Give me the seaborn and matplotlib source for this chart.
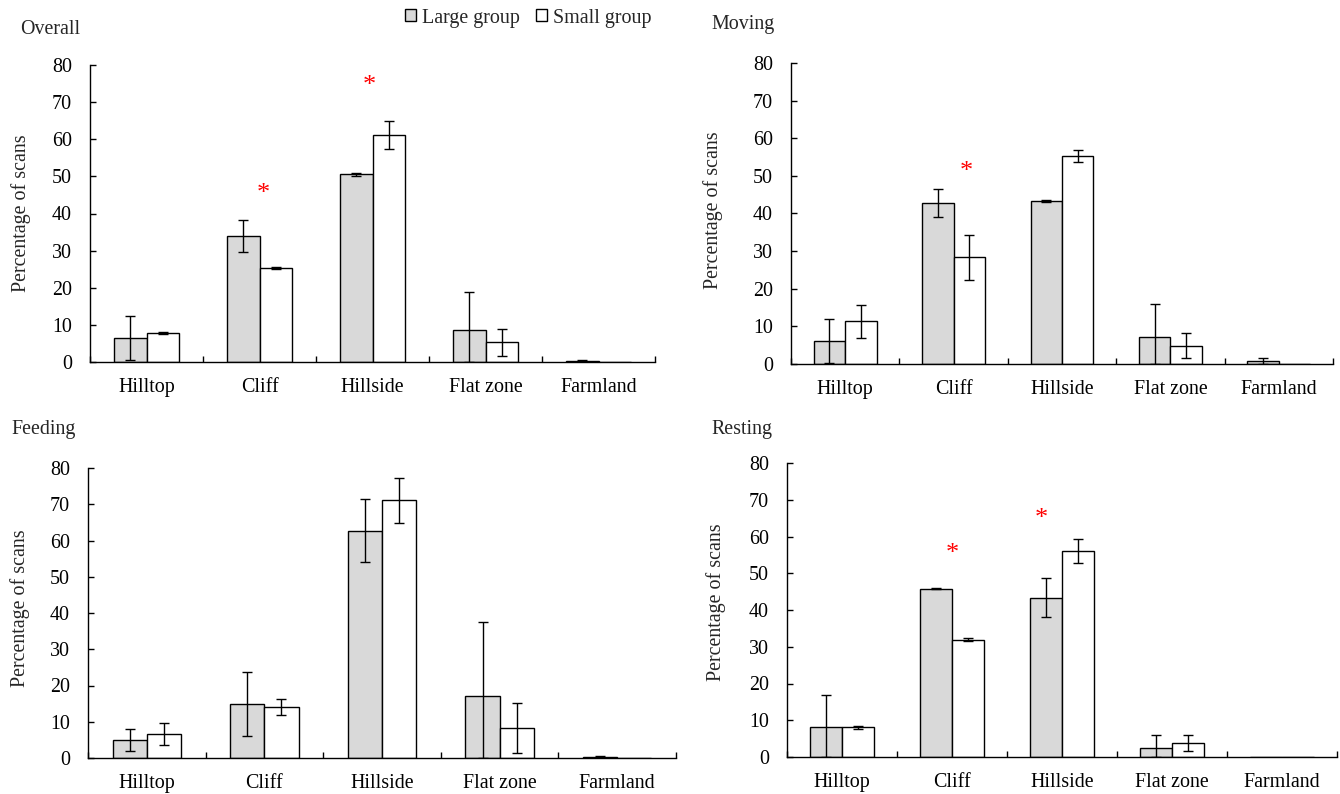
import numpy as np
import pandas as pd
import matplotlib
matplotlib.use("Agg")
import matplotlib.pyplot as plt
import matplotlib.transforms as mtransforms
import seaborn as sns
from matplotlib.patches import Patch
from matplotlib.ticker import FixedLocator

# ---------------- data ----------------
habitats = ["Hilltop", "Cliff", "Hillside", "Flat zone", "Farmland"]
groups = ["Large group", "Small group"]

overall_large = [6.5, 33.9, 50.6, 8.5, 0.3]
overall_large_err = [6.0, 4.3, 0.4, 10.4, 0.2]
overall_small = [7.9, 25.4, 61.1, 5.3, 0.0]
overall_small_err = [0.3, 0.3, 3.8, 3.7, 0.0]

moving_large = [6.1, 42.8, 43.3, 7.1, 0.7]
moving_large_err = [5.9, 3.6, 0.3, 8.9, 1.0]
moving_small = [11.3, 28.4, 55.3, 4.9, 0.0]
moving_small_err = [4.3, 6.0, 1.5, 3.3, 0.0]

feeding_large = [4.9, 14.9, 62.7, 17.2, 0.3]
feeding_large_err = [3.0, 8.9, 8.7, 20.3, 0.3]
feeding_small = [6.6, 14.1, 71.1, 8.2, 0.0]
feeding_small_err = [3.0, 2.3, 6.2, 6.9, 0.0]

resting_large = [8.2, 45.8, 43.3, 2.5, 0.0]
resting_large_err = [8.6, 0.2, 5.3, 3.4, 0.0]
resting_small = [8.1, 31.9, 56.1, 3.8, 0.0]
resting_small_err = [0.4, 0.4, 3.2, 2.3, 0.0]

# significance asterisks: (habitat, height, offset within category)
overall_sig = [("Cliff", 46.9, 0.03), ("Hillside", 76.0, -0.03)]
moving_sig = [("Cliff", 52.6, 0.12)]
feeding_sig = []
resting_sig = [("Cliff", 56.9, 0.0), ("Hillside", 66.4, -0.19)]

titles = ["Overall", "Moving", "Feeding", "Resting"]
y_label = "Percentage of scans"
y_ticks = [0, 10, 20, 30, 40, 50, 60, 70, 80]

# ---------------- style ----------------
sns.set_style("ticks")
plt.rcParams["font.family"] = ["Liberation Serif", "DejaVu Serif"]
plt.rcParams["axes.linewidth"] = 1.0

W, H = 1340, 794
fig = plt.figure(figsize=(W / 100, H / 100), dpi=100)

def rect(l, r, top, bottom):
    return [l / W, 1 - bottom / H, (r - l) / W, (bottom - top) / H]

panels = [
    dict(rect=rect(90, 655, 65, 362), large=overall_large, lerr=overall_large_err,
         small=overall_small, serr=overall_small_err, sig=overall_sig,
         title=titles[0], tpos=(20, 29), lab=(-0.122, 0.5)),
    dict(rect=rect(791, 1333, 63, 364), large=moving_large, lerr=moving_large_err,
         small=moving_small, serr=moving_small_err, sig=moving_sig,
         title=titles[1], tpos=(711, 25), lab=(-0.144, 0.512)),
    dict(rect=rect(88, 676, 468, 758), large=feeding_large, lerr=feeding_large_err,
         small=feeding_small, serr=feeding_small_err, sig=feeding_sig,
         title=titles[2], tpos=(11, 429), lab=(-0.116, 0.517)),
    dict(rect=rect(787, 1337, 463, 757), large=resting_large, lerr=resting_large_err,
         small=resting_small, serr=resting_small_err, sig=resting_sig,
         title=titles[3], tpos=(711, 429), lab=(-0.129, 0.527)),
]

FS = 14.4
palette = {"Large group": "#d9d9d9", "Small group": "white"}

for p in panels:
    ax = fig.add_axes(p["rect"])
    df = pd.DataFrame({
        "habitat": habitats * 2,
        "group": [groups[0]] * len(habitats) + [groups[1]] * len(habitats),
        "value": list(p["large"]) + list(p["small"]),
    })
    sns.barplot(data=df, x="habitat", y="value", hue="group", order=habitats,
                hue_order=groups, palette=palette, saturation=1,
                edgecolor="black", linewidth=1.0, width=0.58, gap=0,
                errorbar=None, legend=False, ax=ax)
    for cont, errs in zip(ax.containers, [p["lerr"], p["serr"]]):
        for bar, e in zip(cont, errs):
            if e <= 0:
                continue
            xc = bar.get_x() + bar.get_width() / 2
            h = bar.get_height()
            ax.errorbar(xc, h, yerr=[[min(e, h)], [e]], fmt="none",
                        ecolor="black", elinewidth=1.0, capsize=3.5,
                        capthick=1.0, zorder=5)
    star_tr = mtransforms.offset_copy(ax.transData, fig=fig, x=0, y=-6, units="dots")
    for hab, yv, off in p["sig"]:
        ax.text(habitats.index(hab) + off, yv, "*", color="red",
                ha="center", va="center", fontsize=19, transform=star_tr)

    ax.set_xlim(-0.5, len(habitats) - 0.5)
    ax.set_ylim(0, 80)
    ax.set_yticks(y_ticks)
    ax.set_xlabel("")
    ax.set_ylabel(y_label, fontsize=FS, va="center", ha="center")
    ax.yaxis.set_label_coords(*p["lab"])
    sns.despine(ax=ax)
    for s in ["left", "bottom"]:
        ax.spines[s].set_color("black")
        ax.spines[s].set_linewidth(1.0)
    ax.tick_params(axis="y", direction="in", length=4.5, width=1.0,
                   pad=13, labelsize=FS, colors="black")
    ax.tick_params(axis="x", which="major", length=0, pad=11.5,
                   labelsize=FS, colors="black")
    ax.xaxis.set_minor_locator(FixedLocator(np.arange(-0.5, len(habitats), 1.0)))
    ax.tick_params(axis="x", which="minor", direction="in", length=4.5,
                   width=1.0, color="black")
    ax.set_facecolor("white")
    fig.text(p["tpos"][0] / W, 1 - p["tpos"][1] / H, p["title"],
             fontsize=FS, ha="left", va="center")

handles = [Patch(facecolor=palette[g], edgecolor="black", linewidth=1.0) for g in groups]
fig.legend(handles, groups, loc="center", bbox_to_anchor=(528 / W, 1 - 18 / H),
           ncol=2, frameon=False, fontsize=FS, handlelength=0.55,
           handleheight=0.55, handletextpad=0.3, columnspacing=0.8,
           borderpad=0, borderaxespad=0)

fig.savefig("out.png", dpi=100, facecolor="white")
